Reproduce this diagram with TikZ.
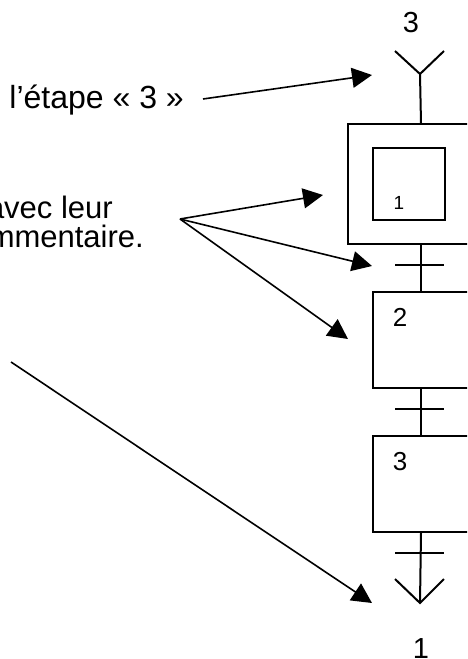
\documentclass[tikz,border=0pt]{standalone}
\usepackage{fontspec}
\setmainfont{Liberation Sans}
\usetikzlibrary{arrows.meta}
\begin{document}
\begin{tikzpicture}[x=1pt, y=-1pt,
  wire/.style={line width=2pt},
  stepbox/.style={draw, line width=2pt, inner sep=0pt, anchor=north west},
  callout/.style={line width=1.6pt, -{Triangle[length=20pt,width=20pt]}},
  bigtxt/.style={inner sep=0pt, font=\fontsize{32}{38}\selectfont},
  midtxt/.style={inner sep=0pt, font=\fontsize{31}{37}\selectfont},
  numtxt/.style={inner sep=0pt, font=\fontsize{26}{31}\selectfont},
  endtxt/.style={inner sep=0pt, font=\fontsize{29}{35}\selectfont},
  smalltxt/.style={inner sep=0pt, font=\fontsize{19}{23}\selectfont}]
  \useasboundingbox (0,0) rectangle (467,659);
  \clip (0,0) rectangle (467,659);

  % entry link from step 3
  \node[endtxt] (inlab) at (411,23) {3};
  \coordinate (inL) at (395,51);
  \coordinate (inR) at (444,51);
  \coordinate (inJ) at (420,74);
  \draw[wire] (inL) -- (inJ) -- (inR);

  % initial step 1 (double square)
  \node[stepbox, minimum width=146pt, minimum height=120pt] (s1) at (347,123) {};
  \node[stepbox, minimum width=72pt, minimum height=72pt] (s1in) at (372,147) {};
  \node[smalltxt] (s1lab) at (399,203) {1};
  \draw[wire] (inJ) -- (s1.north);

  % step 2
  \node[stepbox, minimum width=100pt, minimum height=96pt] (s2) at (372,291) {};
  \node[numtxt] (s2lab) at (400,317) {2};

  % step 3
  \node[stepbox, minimum width=100pt, minimum height=96pt] (s3) at (372,435) {};
  \node[numtxt] (s3lab) at (400,462) {3};

  % links and transitions
  \coordinate (t1) at (420,265);
  \coordinate (t2) at (420,409);
  \coordinate (t3) at (420,553);
  \draw[wire] (s1.south) -- (s2.north west -| s1.south);
  \draw[wire] (s2.south west -| s1.south) -- (s3.north west -| s1.south);
  \foreach \t in {t1,t2,t3}
    \draw[wire] ([xshift=-25pt]\t) -- ([xshift=24pt]\t);

  % exit link to step 1
  \coordinate (outL) at (395,579);
  \coordinate (outR) at (444,579);
  \coordinate (outJ) at (420,603);
  \draw[wire] (s3.south west -| s1.south) -- (outJ);
  \draw[wire] (outL) -- (outJ) -- (outR);
  \node[endtxt, anchor=north] (outlab) at (421,638) {1};

  % comments
  \node[bigtxt, anchor=base east] (c1) at (184,108) {l’étape «~3~»};
  \node[midtxt, anchor=base east] (c2a) at (113,218) {avec leur};
  \node[midtxt, anchor=base east] (c2b) at (144,247) {mmentaire.};

  % callout arrows
  \coordinate (a1) at (203,99);
  \coordinate (a2) at (180,219);
  \coordinate (a3) at (11,362);
  \coordinate (p1) at (372,75);
  \coordinate (p2) at (323,195);
  \coordinate (p3) at (372,266);
  \coordinate (p4) at (348,339);
  \coordinate (p5) at (372,603);
  \draw[callout] (a1) -- (p1);
  \draw[callout] (a2) -- (p2);
  \draw[callout] (a2) -- (p3);
  \draw[callout] (a2) -- (p4);
  \draw[callout] (a3) -- (p5);
\end{tikzpicture}
\end{document}
